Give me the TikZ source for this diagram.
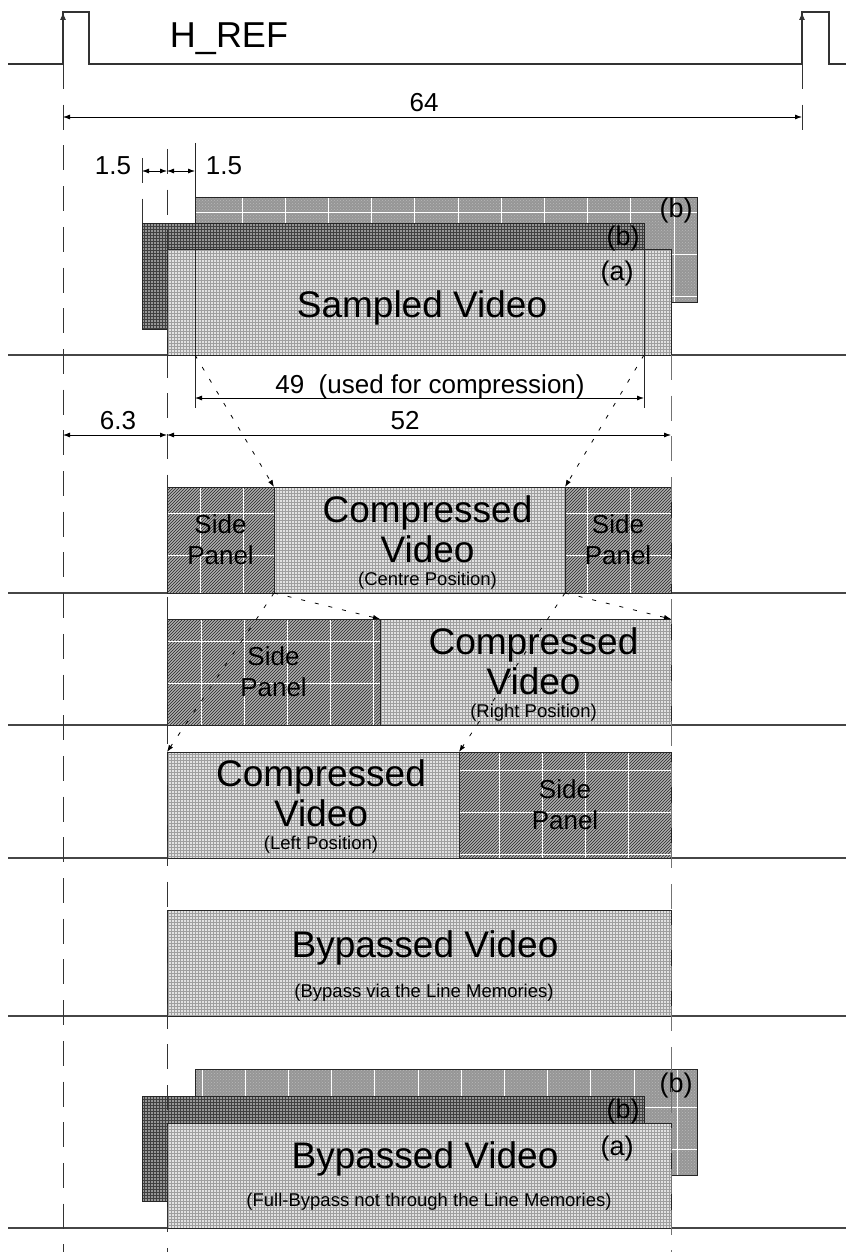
\documentclass[tikz,border=0pt]{standalone}
\usepackage{fontspec}
\setmainfont{Liberation Sans}
\definecolor{vidgray}{RGB}{226,226,226}
\definecolor{midgray}{RGB}{150,150,150}
\definecolor{backgray}{RGB}{150,150,150}
\definecolor{panelgray}{RGB}{175,175,175}
\definecolor{linegray}{RGB}{70,70,70}
\usetikzlibrary{arrows.meta, positioning, calc, patterns}
\newcommand{\hdvid}{\fontsize{37}{40}\selectfont}
\newcommand{\hddim}{\fontsize{26}{30}\selectfont}
\newcommand{\hdtag}{\fontsize{27}{30}\selectfont}
\newcommand{\hdcap}{\fontsize{18.5}{22}\selectfont}
\newcommand{\hdpanel}{\fontsize{26}{31}\selectfont}
\tikzset{
  boxbase/.style={draw=black!85, line width=0.8pt, inner sep=0pt, outer sep=0pt, anchor=north west},
  vidbox/.style={boxbase, preaction={fill=vidgray}, pattern=grid, pattern color=gray!75},
  midbox/.style={boxbase, preaction={fill=midgray}, pattern=grid, pattern color=black!75},
  backbox/.style={boxbase, preaction={fill=backgray}, pattern=crosshatch dots, pattern color=gray!55},
  panelbox/.style={boxbase, preaction={fill=panelgray}, pattern=north east lines, pattern color=black!85, align=center, font=\hdpanel},
  wgrid/.style 2 args={path picture={
    \foreach \k in {0,...,11}
      \draw[white, line width=0.9pt] ($(path picture bounding box.north west)+({#1+43.2*\k},0)$) -- ++(0,130);
    \foreach \k in {0,1,2}
      \draw[white, line width=0.9pt] ($(path picture bounding box.north west)+(0,{#2+42*\k})$) -- ++(530,0);
  }},
  vidtext/.style={font=\hdvid, inner sep=0pt, anchor=base},
  captext/.style={font=\hdcap, inner sep=0pt, anchor=base},
  dimtext/.style={font=\hddim, inner sep=0pt, anchor=base},
  tagtext/.style={font=\hdtag, inner sep=0pt, anchor=base},
  rowline/.style={draw=linegray, line width=1.3pt},
  sigline/.style={draw=black!80, line width=1.1pt},
  guide/.style={draw=black!80, line width=0.9pt, dash pattern=on 25pt off 15.7pt},
  extline/.style={draw=black!85, line width=0.8pt},
  dimline/.style={{Latex[length=7pt,width=5pt]}-{Latex[length=7pt,width=5pt]}, line width=0.8pt},
  shiftarrow/.style={-{Latex[length=7pt,width=5pt]}, dash pattern=on 4pt off 10pt, line width=0.8pt},
}
\begin{document}
\begin{tikzpicture}[x=1pt, y=-1pt, node distance=0pt]
  \useasboundingbox (0,0) rectangle (846,1252);
  \foreach \ry in {355,593,725,858,1016,1228} \draw[rowline] (8,\ry) -- (846,\ry);

  \coordinate (h0) at (8,64); \coordinate (h1) at (63,64); \coordinate (h1t) at (63,12);
  \coordinate (h2t) at (89,12); \coordinate (h2) at (89,64); \coordinate (h3) at (802,64);
  \coordinate (h3t) at (802,12); \coordinate (h4t) at (829,12); \coordinate (h4) at (829,64);
  \coordinate (h5) at (846,64);
  \draw[sigline] (h0) -- (h1) -- (h1t) -- (h2t) -- (h2) -- (h3) -- (h3t) -- (h4t) -- (h4) -- (h5);
  \draw[sigline, -{Latex[length=8pt,width=6pt]}] (h1) -- (h1t);
  \draw[sigline, -{Latex[length=8pt,width=6pt]}] (h3) -- (h3t);
  \node[font=\fontsize{36}{40}\selectfont, inner sep=0pt, anchor=base] (href) at (229,48) {H\_REF};

  % sampled video stack
  \node[backbox, wgrid={47}{15}, minimum width=502, minimum height=105] (sback) at (195,197) {};
  \node[midbox, minimum width=502, minimum height=106] (smid) at (142,223) {};
  \node[vidbox, minimum width=504, minimum height=106] (sfront) at (167,249) {};
  \node[tagtext] at ($(sback.north east)+(-21,21)$) {(b)};
  \node[tagtext] at ($(smid.north east)+(-21,22)$) {(b)};
  \node[tagtext] at ($(sfront.north east)+(-54,31)$) {(a)};
  \node[vidtext] (samp) at ($(sfront.south)+(3,-38)$) {Sampled Video};

  % centre position
  \node[panelbox, wgrid={33}{26}, minimum width=107, minimum height=106] (sp3l) at (167,487) {Side\\Panel};
  \node[vidbox, minimum width=291, minimum height=106, right=of sp3l] (cv3) {};
  \node[panelbox, wgrid={22}{26}, minimum width=106, minimum height=106, right=of cv3] (sp3r) {Side\\Panel};
  \node[vidtext, align=center, anchor=center] at ($(cv3.center)+(8,-11)$) {Compressed\\Video};
  \node[captext] at ($(cv3.south)+(8,-8)$) {(Centre Position)};

  % right position
  \node[panelbox, wgrid={34}{22}, minimum width=213, minimum height=106] (sp4) at (167,619) {Side\\Panel};
  \node[vidbox, minimum width=291, minimum height=106, right=of sp4] (cv4) {};
  \node[vidtext, align=center, anchor=center] at ($(cv4.center)+(8,-11)$) {Compressed\\Video};
  \node[captext] at ($(cv4.south)+(8,-8)$) {(Right Position)};

  % left position
  \node[vidbox, minimum width=292, minimum height=106] (cv5) at (167,752) {};
  \node[panelbox, wgrid={40}{18}, minimum width=212, minimum height=106, right=of cv5] (sp5) {Side\\Panel};
  \node[vidtext, align=center, anchor=center] at ($(cv5.center)+(8,-12)$) {Compressed\\Video};
  \node[captext] at ($(cv5.south)+(8,-9)$) {(Left Position)};

  % bypass
  \node[vidbox, minimum width=504, minimum height=106] (bp6) at (167,910) {};
  \node[vidtext] at ($(bp6.south)+(6,-59)$) {Bypassed Video};
  \node[captext] at ($(bp6.south)+(5,-19)$) {(Bypass via the Line Memories)};

  % full bypass stack
  \node[backbox, wgrid={7}{38}, minimum width=502, minimum height=106] (fback) at (195,1069) {};
  \node[midbox, minimum width=502, minimum height=105] (fmid) at (142,1096) {};
  \node[vidbox, minimum width=504, minimum height=105] (ffront) at (167,1123) {};
  \node[tagtext] at ($(fback.north east)+(-21,23)$) {(b)};
  \node[tagtext] at ($(fmid.north east)+(-21,22)$) {(b)};
  \node[tagtext] at ($(ffront.north east)+(-54,32)$) {(a)};
  \node[vidtext] at ($(ffront.south)+(6,-60)$) {Bypassed Video};
  \node[captext] at ($(ffront.south)+(10,-22)$) {(Full-Bypass not through the Line Memories)};

  % guides and dimensions
  \coordinate (g63b) at (63,1252); \coordinate (g167t) at (167,149); \coordinate (g167b) at (167,1252);
  \coordinate (g671t) at (671,355); \coordinate (g671b) at (671,1252); \coordinate (g142t) at (142,158);
  \coordinate (g802b) at (802,131); \coordinate (e195t) at (195,143);
  \coordinate (e195b) at (195,408); \coordinate (e644b) at (644,408);
  \draw[guide] (h1) -- (g63b);
  \draw[guide] (g167t) -- (g167b);
  \draw[guide, draw=black!55] (g671t) -- (g671b);
  \draw[guide] (g142t) -- (smid.north west);
  \draw[guide] (h3) -- (g802b);
  \draw[extline] (e195t) -- (e195b);
  \draw[extline] (smid.north east) -- (e644b);

  \draw[dimline] (63,117) coordinate (d64l) -- (802,117) coordinate (d64r);
  \node[dimtext] at (424,112) {64};
  \draw[dimline] (142,171) coordinate (d15a) -- (167,171) coordinate (d15b);
  \draw[dimline] (d15b) -- (195,171) coordinate (d15c);
  \node[dimtext] at (113,175) {1.5};
  \node[dimtext] at (224,175) {1.5};
  \draw[dimline] (195,398) coordinate (d49l) -- (644,398) coordinate (d49r);
  \node[dimtext] at (430,393) {49\ \ (used for compression)};
  \draw[dimline] (63,435) coordinate (d63l) -- (167,435) coordinate (d63r);
  \draw[dimline] (d63r) -- (671,435) coordinate (d52r);
  \node[dimtext] at (118,429) {6.3};
  \node[dimtext] at (405,429) {52};

  \draw[shiftarrow] (sfront.south -| sback.west) -- (cv3.north west);
  \draw[shiftarrow] (sfront.south -| smid.east) -- (cv3.north east);
  \draw[shiftarrow] (cv3.south west) -- (cv4.north west);
  \draw[shiftarrow] (cv3.south east) -- (cv4.north east);
  \draw[shiftarrow] (cv3.south west) -- (cv5.north west);
  \draw[shiftarrow] (cv3.south east) -- (cv5.north east);
\end{tikzpicture}
\end{document}
